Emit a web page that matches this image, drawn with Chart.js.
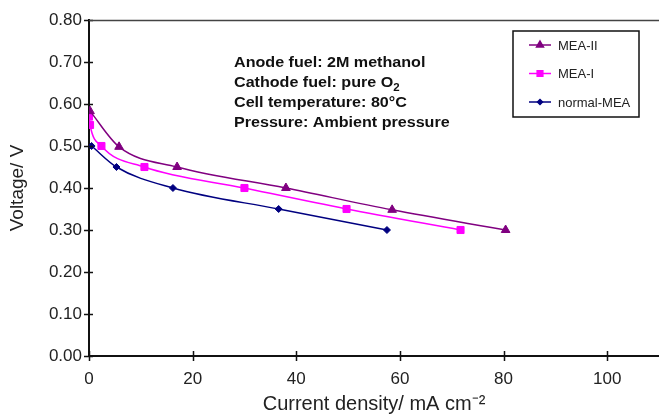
<!DOCTYPE html>
<html>
<head>
<meta charset="utf-8">
<script src="https://cdn.jsdelivr.net/npm/chart.js@4"></script>
<style>
  html, body { margin: 0; padding: 0; background: #fff; }
  #wrap { width: 659px; height: 416px; position: relative; }
</style>
</head>
<body>
<div id="wrap"><canvas id="chart"></canvas></div>
<script>
// values (current density mA/cm2, voltage V)
const meaIIx = [0.2, 5.8, 17, 38, 58.5, 80.4];
const meaIIy = [0.583, 0.498, 0.45, 0.40, 0.348, 0.30];
const meaIx = [0, 0.2, 2.4, 10.7, 30, 49.7, 71.7];
const meaIy = [0.57, 0.55, 0.50, 0.45, 0.40, 0.35, 0.30];
const normalX = [0.5, 5.3, 16.2, 36.6, 57.5];
const normalY = [0.50, 0.45, 0.40, 0.35, 0.30];
const yTicks = [0, 0.1, 0.2, 0.3, 0.4, 0.5, 0.6, 0.7, 0.8];
const xTicks = [0, 20, 40, 60, 80, 100];
const notes = ["Anode fuel: 2M methanol", "Cathode fuel: pure O", "Cell temperature: 80\u00B0C", "Pressure: Ambient pressure"];

const toPts = (xs, ys) => xs.map((x, i) => ({ x: x, y: ys[i] }));

function series(label, xs, ys, color, style, r) {
  return {
    label: label,
    data: toPts(xs, ys),
    borderColor: color,
    backgroundColor: color,
    borderWidth: 1.5,
    pointStyle: style,
    pointRadius: r,
    pointBorderWidth: 1,
    cubicInterpolationMode: 'monotone',
    fill: false
  };
}

// ticks that cross the axis line, plus the top border, notes and boxed legend
const extras = {
  id: 'extras',
  afterDraw(chart) {
    const ctx = chart.ctx;
    const area = chart.chartArea;
    const xs = chart.scales.x, ys = chart.scales.y;
    ctx.save();
    ctx.strokeStyle = '#111';
    ctx.lineWidth = 1.5;
    ctx.beginPath();
    yTicks.forEach(v => {
      const p = Math.round(ys.getPixelForValue(v)) + 0.5;
      ctx.moveTo(area.left - 5, p); ctx.lineTo(area.left + 4, p);
    });
    xTicks.forEach(v => {
      const p = Math.round(xs.getPixelForValue(v)) + 0.5;
      ctx.moveTo(p, area.bottom - 5); ctx.lineTo(p, area.bottom + 5);
    });
    ctx.stroke();

    ctx.strokeStyle = '#444';
    ctx.beginPath();
    ctx.moveTo(area.left, area.top + 0.5); ctx.lineTo(area.right, area.top + 0.5);
    ctx.stroke();

    // notes
    ctx.fillStyle = '#111';
    ctx.font = 'bold 14px "Liberation Sans", Arial, sans-serif';
    ctx.textBaseline = 'alphabetic';
    notes.forEach((t, i) => {
      ctx.save();
      ctx.translate(234, 67 + i * 20);
      ctx.scale(1.15, 1);
      ctx.fillText(t, 0, 0);
      if (i === 1) {
        const w = ctx.measureText(t).width;
        ctx.font = 'bold 10px "Liberation Sans", Arial, sans-serif';
        ctx.fillText('2', w, 4);
      }
      ctx.restore();
    });

    // legend box
    const bx = 513, by = 31, bw = 126, bh = 86;
    ctx.strokeStyle = '#111';
    ctx.lineWidth = 1.5;
    ctx.strokeRect(bx, by, bw, bh);
    ctx.font = '13px "Liberation Sans", Arial, sans-serif';
    ctx.textBaseline = 'middle';
    chart.data.datasets.forEach((ds, i) => {
      const y = 45 + i * 28.5;
      ctx.strokeStyle = ds.borderColor;
      ctx.fillStyle = ds.backgroundColor;
      ctx.lineWidth = 1.5;
      ctx.beginPath();
      ctx.moveTo(529, y); ctx.lineTo(551, y);
      ctx.stroke();
      Chart.helpers.drawPoint(ctx, { pointStyle: ds.pointStyle, radius: ds.pointRadius - 1, rotation: 0, borderWidth: 1 }, 540, y);
      ctx.fillStyle = '#222';
      ctx.fillText(ds.label, 558, y + 1);
    });
    ctx.restore();
  }
};

new Chart(document.getElementById('chart'), {
  type: 'line',
  data: {
    datasets: [
      series('MEA-II', meaIIx, meaIIy, '#800080', 'triangle', 5),
      series('MEA-I', meaIx, meaIy, '#ff00ff', 'rect', 5),
      series('normal-MEA', normalX, normalY, '#000080', 'rectRot', 3.5)
    ]
  },
  options: {
    responsive: true,
    maintainAspectRatio: false,
    animation: false,
    layout: { autoPadding: false, padding: { top: 20, right: 0, left: 0, bottom: 0 } },
    plugins: { legend: { display: false }, tooltip: { enabled: false } },
    scales: {
      x: {
        type: 'linear',
        min: 0,
        max: 110,
        afterFit: s => { s.height = 60; },
        afterBuildTicks: s => { s.ticks = xTicks.map(v => ({ value: v })); },
        grid: { display: false, drawTicks: false, tickLength: 0 },
        border: { color: '#111', width: 2 },
        ticks: { padding: 13, color: '#222', font: { family: '"Liberation Sans", Arial', size: 17 }, maxRotation: 0 },
        title: {
          display: true,
          text: 'Current density/ mA cm\u207B\u00B2',
          color: '#222',
          font: { family: '"Liberation Sans", Arial', size: 20 },
          padding: { top: 5, bottom: 0 }
        }
      },
      y: {
        min: 0,
        max: 0.8,
        afterFit: s => { s.width = 89; },
        afterBuildTicks: s => { s.ticks = yTicks.map(v => ({ value: v })); },
        grid: { display: false, drawTicks: false, tickLength: 0 },
        border: { color: '#111', width: 2 },
        ticks: {
          padding: 7,
          color: '#222',
          font: { family: '"Liberation Sans", Arial', size: 17 },
          callback: v => v.toFixed(2)
        },
        title: {
          display: true,
          text: 'Voltage/ V',
          color: '#222',
          font: { family: '"Liberation Sans", Arial', size: 19 },
          padding: { top: 6, bottom: 0 }
        }
      }
    }
  },
  plugins: [extras]
});
</script>
</body>
</html>
